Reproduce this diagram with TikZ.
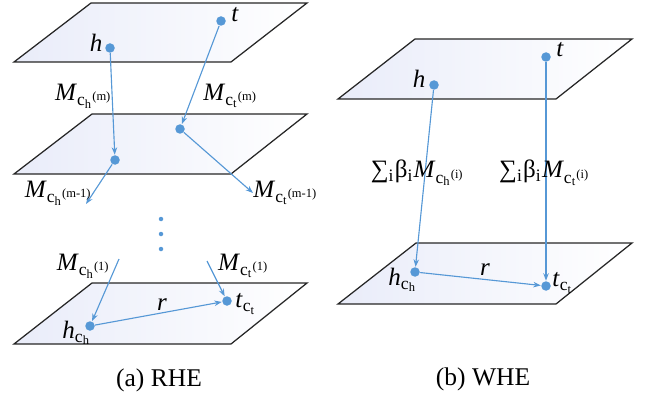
\documentclass[tikz,border=0pt]{standalone}
\usepackage{amsmath}
\usepackage{fontspec}
\setmainfont{Liberation Serif}
\usetikzlibrary{arrows.meta}
\definecolor{ptblue}{RGB}{86,152,214}
\definecolor{planeblue}{RGB}{233,236,249}
\begin{document}
\begin{tikzpicture}[x=0.4pt,y=-0.4pt,
  plane/.style={draw=black!85,line width=0.5pt,left color=planeblue,right color=white},
  pt/.style={circle,fill=ptblue,inner sep=0pt,minimum size=3.8pt},
  sdot/.style={circle,fill=ptblue,inner sep=0pt,minimum size=1.8pt},
  arr/.style={draw=ptblue,line width=0.45pt,-{Stealth[length=3pt,width=2.2pt]}},
  lbl/.style={inner sep=0pt,font=\fontsize{10}{12}\selectfont},
  captext/.style={inner sep=0pt,font=\fontsize{10.2}{12}\selectfont},
]
\path[use as bounding box] (0,0) rectangle (646,399);
% ---------- (a) RHE ----------
\path[plane] (14,62)--(91,3)--(307,3)--(231,62)--cycle;
\path[plane] (14,174)--(92,114)--(307,114)--(231,174)--cycle;
\path[plane] (14,344)--(92,283)--(307,283)--(231,344)--cycle;

\node[pt] (h1) at (110,48) {};
\node[pt] (t1) at (221,21) {};
\node[pt] (h2) at (115,160) {};
\node[pt] (t2) at (180,129) {};
\coordinate (hm1) at (86,204);
\coordinate (tm1) at (253,193);
\node[sdot] (d1) at (161,219) {};
\node[sdot] (d2) at (161,234) {};
\node[sdot] (d3) at (161,249) {};
\coordinate (s1) at (119,259);
\coordinate (s2) at (207,261);
\node[pt] (hc) at (90,326) {};
\node[pt] (tc) at (227,301) {};

\draw[arr] (h1) -- (h2);
\draw[arr] (t1) -- (t2);
\draw[arr] (h2) -- (hm1);
\draw[arr] (t2) -- (tm1);
\draw[arr] (s1) -- (hc);
\draw[arr] (s2) -- (tc);
\draw[arr] (hc) -- (tc);

\node[lbl] (lh1) at (96,43) {\textit{h}};
\node[lbl] (lt1) at (235,15) {\textit{t}};
\node[lbl] (lmh) at (84,96) {\textit{M}$_{{\text{c}_{\text{h}}}^{\text{(m)}}}$};
\node[lbl] (lmt) at (231,96) {\textit{M}$_{{\text{c}_{\text{t}}}^{\text{(m)}}}$};
\node[lbl] (lmh1) at (59,193) {\textit{M}$_{{\text{c}_{\text{h}}}^{\text{(m-1)}}}$};
\node[lbl] (lmt1) at (286,193) {\textit{M}$_{{\text{c}_{\text{t}}}^{\text{(m-1)}}}$};
\node[lbl] (lmhA) at (84,266) {\textit{M}$_{{\text{c}_{\text{h}}}^{\text{(1)}}}$};
\node[lbl] (lmtA) at (244,266) {\textit{M}$_{{\text{c}_{\text{t}}}^{\text{(1)}}}$};
\node[lbl] (lr) at (162,305) {\textit{r}};
\node[lbl] (lhc) at (77,333) {\textit{h}$_{\text{c}_{\text{h}}}$};
\node[lbl] (ltc) at (246,304) {\textit{t}$_{\text{c}_{\text{t}}}$};
\node[captext] (capa) at (159,380) {(a)\ RHE};

% ---------- (b) WHE ----------
\path[plane] (338,99)--(415,39)--(632,39)--(556,99)--cycle;
\path[plane] (338,304)--(416,243)--(632,243)--(556,304)--cycle;

\node[pt] (hR) at (434,85) {};
\node[pt] (tR) at (546,57) {};
\node[pt] (hcR) at (415,272) {};
\node[pt] (tcR) at (546,286) {};

\draw[arr] (hR) -- (hcR);
\draw[arr] (tR) -- (tcR);
\draw[arr] (hcR) -- (tcR);

\node[lbl] (lhR) at (419,79) {\textit{h}};
\node[lbl] (ltR) at (560,50) {\textit{t}};
\node[lbl] (lsh) at (418,173) {∑\textsubscript{i}β\textsubscript{i}\textit{M}$_{{\text{c}_{\text{h}}}^{\text{(i)}}}$};
\node[lbl] (lst) at (545,173) {∑\textsubscript{i}β\textsubscript{i}\textit{M}$_{{\text{c}_{\text{t}}}^{\text{(i)}}}$};
\node[lbl] (lrR) at (485,270) {\textit{r}};
\node[lbl] (lhcR) at (403,280) {\textit{h}$_{\text{c}_{\text{h}}}$};
\node[lbl] (ltcR) at (563,283) {\textit{t}$_{\text{c}_{\text{t}}}$};
\node[captext] (capb) at (483,379) {(b)\ WHE};
\end{tikzpicture}
\end{document}
